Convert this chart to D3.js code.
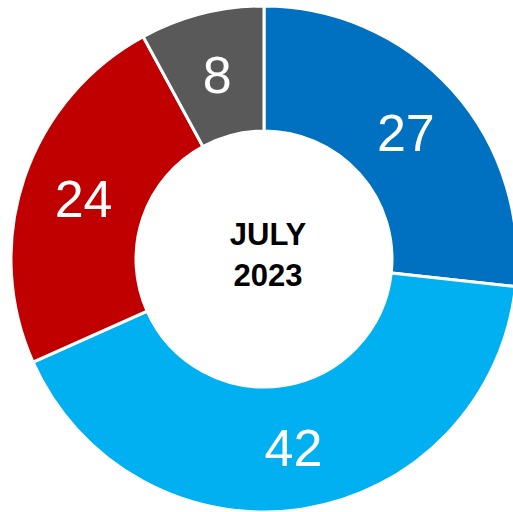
<!DOCTYPE html>
<html>
<head>
<meta charset="utf-8">
<script src="https://cdn.jsdelivr.net/npm/d3@7"></script>
<style>
  html, body { margin: 0; padding: 0; background: #fff; }
  svg { display: block; }
</style>
</head>
<body>
<svg id="chart" width="513" height="512"></svg>
<script>
// segment data, clockwise from 12 o'clock
var categories = ["A", "B", "C", "D"];
var values = [27, 42, 24, 8];
var colors = ["#0070C0", "#00B0F0", "#C00000", "#595959"];
var centerLines = ["JULY", "2023"];

var cx = 264, cy = 259;
var outerR = 253, innerR = 128;

var svg = d3.select("#chart");
var g = svg.append("g").attr("transform", "translate(" + cx + "," + cy + ")");

var pie = d3.pie().sort(null).value(function (d) { return d.value; });
var data = pie(categories.map(function (c, i) {
  return { cat: c, value: values[i], color: colors[i] };
}));

var arc = d3.arc().innerRadius(innerR).outerRadius(outerR);
var labelArc = d3.arc().innerRadius((innerR + outerR) / 2).outerRadius((innerR + outerR) / 2);

g.selectAll("path.seg")
  .data(data)
  .enter()
  .append("path")
  .attr("class", "seg")
  .attr("d", arc)
  .attr("fill", function (d) { return d.data.color; })
  .attr("stroke", "#fff")
  .attr("stroke-width", 3);

g.selectAll("text.lbl")
  .data(data)
  .enter()
  .append("text")
  .attr("class", "lbl")
  .attr("transform", function (d) { return "translate(" + labelArc.centroid(d) + ")"; })
  .attr("text-anchor", "middle")
  .attr("dy", "0.36em")
  .attr("fill", "#fff")
  .style("font-family", "Arial, 'Liberation Sans', sans-serif")
  .style("font-size", "52px")
  .text(function (d) { return d.data.value; });

// center text
g.selectAll("text.center")
  .data(centerLines)
  .enter()
  .append("text")
  .attr("class", "center")
  .attr("x", 4)
  .attr("y", function (d, i) { return -14 + i * 41; })
  .attr("text-anchor", "middle")
  .attr("fill", "#000")
  .style("font-family", "Arial, 'Liberation Sans', sans-serif")
  .style("font-weight", "bold")
  .style("font-size", "31px")
  .text(function (d) { return d; });
</script>
</body>
</html>
